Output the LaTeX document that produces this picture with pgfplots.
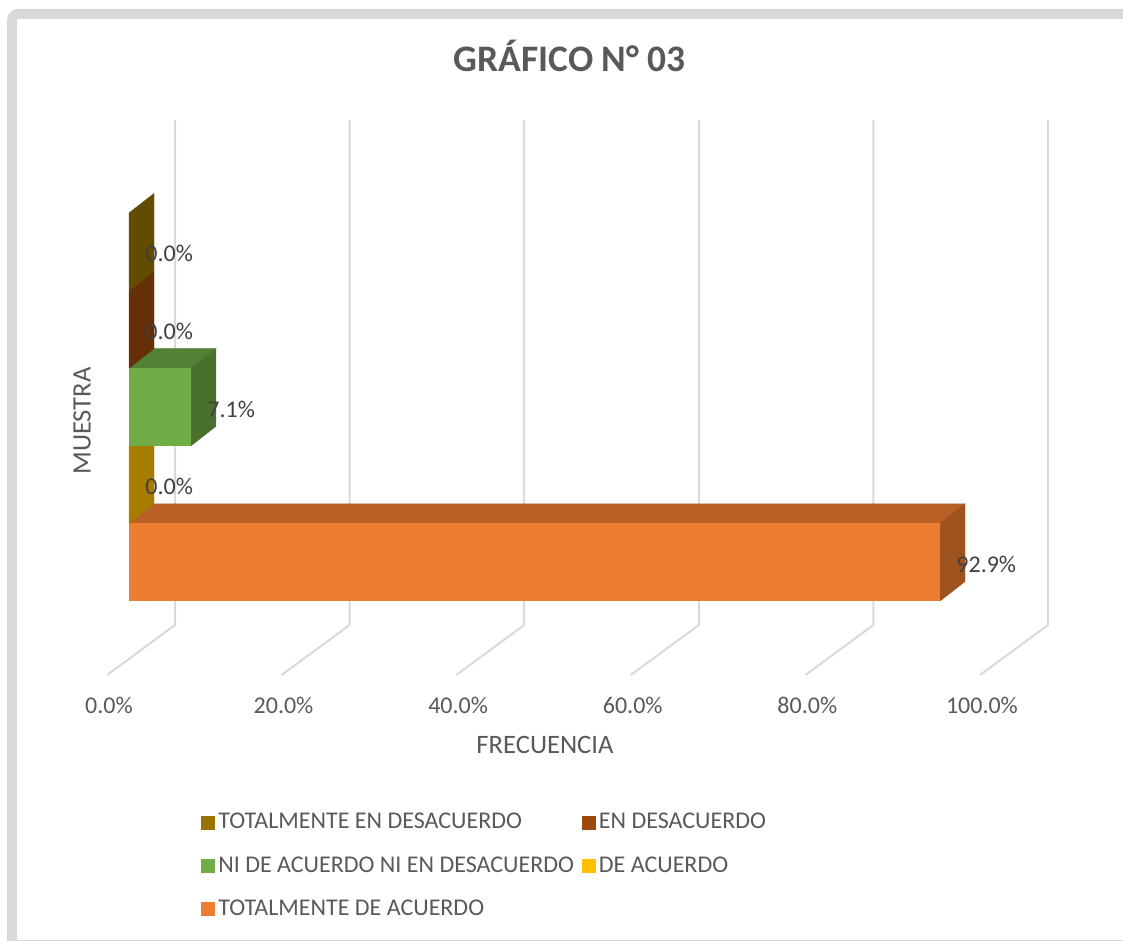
\documentclass[border=0pt]{standalone}
\usepackage{pgfplots}
\pgfplotsset{compat=1.18}
\usepackage{fontspec}
\setmainfont{Carlito}
\definecolor{cOrange}{HTML}{ED7D31}
\definecolor{cOrangeTop}{HTML}{B86026}
\definecolor{cOrangeSide}{HTML}{9E521E}
\definecolor{cGreen}{HTML}{70AD47}
\definecolor{cGreenTop}{HTML}{548235}
\definecolor{cGreenSide}{HTML}{4A702E}
\definecolor{cOlive}{HTML}{997300}
\definecolor{cOliveSide}{HTML}{634B00}
\definecolor{cBrown}{HTML}{9E480E}
\definecolor{cBrownSide}{HTML}{672F09}
\definecolor{cGold}{HTML}{FFC000}
\definecolor{cGoldSide}{HTML}{A67D00}
\definecolor{cGrid}{HTML}{D9D9D9}
\definecolor{cText}{HTML}{595959}
\definecolor{cLabel}{HTML}{404040}
\begin{document}
\begin{tikzpicture}
\begin{axis}[
  scale only axis, width=561.5pt, height=470.5pt,
  xmin=-14.777, xmax=113.86, ymin=0, ymax=941,
  hide axis, clip=false,
  /pgf/number format/assume math mode=true,
  legend columns=2,
  legend cell align=left,
  legend image code/.code={\fill[#1] (0pt,-3.5pt) rectangle (7pt,3.5pt);},
  legend style={at={(axis cs:7.55,135)}, anchor=north west, draw=none, fill=none,
    font=\fontsize{12}{14}\selectfont, text=cText, row sep=9.4pt,
    /tikz/every even column/.append style={column sep=2.5pt},
    nodes={inner sep=1.5pt}},
  every node near coord/.style={anchor=west, inner sep=0pt, xshift=8pt, yshift=-1pt,
    font=\fontsize{12}{14}\selectfont, text=cLabel},
  nodes near coords={\pgfmathprintnumber[fixed,fixed zerofill,precision=1]{\pgfplotspointmeta}\%},
]
% legend
\addlegendimage{fill=cOlive, draw=none}
\addlegendentry{TOTALMENTE EN DESACUERDO}
\addlegendimage{fill=cBrown, draw=none}
\addlegendentry{EN DESACUERDO}
\addlegendimage{fill=cGreen, draw=none}
\addlegendentry{NI DE ACUERDO NI EN DESACUERDO}
\addlegendimage{fill=cGold, draw=none}
\addlegendentry{DE ACUERDO}
\addlegendimage{fill=cOrange, draw=none}
\addlegendentry{TOTALMENTE DE ACUERDO}

% gridlines (back wall + floor)
\addplot[cGrid, line width=1pt, forget plot, nodes near coords=] coordinates {(-2.52,266) (5.27,316) (5.27,821)};
\addplot[cGrid, line width=1pt, forget plot, nodes near coords=] coordinates {(17.48,266) (25.27,316) (25.27,821)};
\addplot[cGrid, line width=1pt, forget plot, nodes near coords=] coordinates {(37.48,266) (45.27,316) (45.27,821)};
\addplot[cGrid, line width=1pt, forget plot, nodes near coords=] coordinates {(57.48,266) (65.27,316) (65.27,821)};
\addplot[cGrid, line width=1pt, forget plot, nodes near coords=] coordinates {(77.48,266) (85.27,316) (85.27,821)};
\addplot[cGrid, line width=1pt, forget plot, nodes near coords=] coordinates {(97.48,266) (105.27,316) (105.27,821)};

% TOTALMENTE DE ACUERDO 92.9
\addplot[fill=cOrangeTop, draw=cOrangeTop, line width=0.2pt, forget plot, nodes near coords=] coordinates {(0,417.6) (92.9,417.6) (95.764,437.1) (2.864,437.1) (0,417.6)};
\addplot[fill=cOrangeSide, draw=cOrangeSide, line width=0.2pt, forget plot, nodes near coords=] coordinates {(92.9,340) (92.9,417.6) (95.764,437.1) (95.764,359.5) (92.9,340)};
\addplot[xbar, bar width=77.6, bar shift=0pt, fill=cOrange, draw=none, point meta=x, forget plot] coordinates {(92.9,378.8)};

% DE ACUERDO 0
\addplot[fill=cGoldSide, draw=cGoldSide, line width=0.2pt, forget plot, nodes near coords=] coordinates {(0,417.6) (0,495.2) (2.864,514.7) (2.864,437.1) (0,417.6)};
\addplot[xbar, bar width=77.6, bar shift=0pt, fill=cGold, draw=none, point meta=x, forget plot] coordinates {(0,456.4)};

% NI DE ACUERDO NI EN DESACUERDO 7.1
\addplot[fill=cGreenTop, draw=cGreenTop, line width=0.2pt, forget plot, nodes near coords=] coordinates {(0,572.8) (7.1,572.8) (9.964,592.3) (2.864,592.3) (0,572.8)};
\addplot[fill=cGreenSide, draw=cGreenSide, line width=0.2pt, forget plot, nodes near coords=] coordinates {(7.1,495.2) (7.1,572.8) (9.964,592.3) (9.964,514.7) (7.1,495.2)};
\addplot[xbar, bar width=77.6, bar shift=0pt, fill=cGreen, draw=none, point meta=x, forget plot] coordinates {(7.1,534)};

% EN DESACUERDO 0
\addplot[fill=cBrownSide, draw=cBrownSide, line width=0.2pt, forget plot, nodes near coords=] coordinates {(0,572.8) (0,650.4) (2.864,669.9) (2.864,592.3) (0,572.8)};
\addplot[xbar, bar width=77.6, bar shift=0pt, fill=cBrown, draw=none, point meta=x, forget plot] coordinates {(0,611.6)};

% TOTALMENTE EN DESACUERDO 0
\addplot[fill=cOliveSide, draw=cOliveSide, line width=0.2pt, forget plot, nodes near coords=] coordinates {(0,650.4) (0,728) (2.864,747.5) (2.864,669.9) (0,650.4)};
\addplot[xbar, bar width=77.6, bar shift=0pt, fill=cOlive, draw=none, point meta=x, forget plot] coordinates {(0,689.2)};

% tick labels
\node[text=cText, font=\fontsize{12}{14}\selectfont] at (axis cs:-2.3,236) {0.0\%};
\node[text=cText, font=\fontsize{12}{14}\selectfont] at (axis cs:17.7,236) {20.0\%};
\node[text=cText, font=\fontsize{12}{14}\selectfont] at (axis cs:37.7,236) {40.0\%};
\node[text=cText, font=\fontsize{12}{14}\selectfont] at (axis cs:57.7,236) {60.0\%};
\node[text=cText, font=\fontsize{12}{14}\selectfont] at (axis cs:77.7,236) {80.0\%};
\node[text=cText, font=\fontsize{12}{14}\selectfont] at (axis cs:97.7,236) {100.0\%};
% axis titles
\node[text=cText, font=\fontsize{13.3}{15}\selectfont] at (axis cs:47.65,196) {FRECUENCIA};
\node[text=cText, font=\fontsize{13.3}{15}\selectfont, rotate=90] at (axis cs:-5.38,520) {MUESTRA};
% chart title
\node[text=cText, font=\fontsize{18.7}{22}\selectfont\bfseries] at (axis cs:50.5,885) {GRÁFICO N° 03};
% chart border
\draw[cGrid, line width=5pt, rounded corners=3pt] (axis cs:-13.4,0) -- (axis cs:-13.4,927) -- (axis cs:114.5,927);
\draw[cGrid, line width=1pt] (axis cs:-13.4,0.5) -- (axis cs:114.5,0.5);
\end{axis}
\pgfresetboundingbox
\path[use as bounding box] (0,0) rectangle (561.5pt,470.5pt);
\end{tikzpicture}
\end{document}
